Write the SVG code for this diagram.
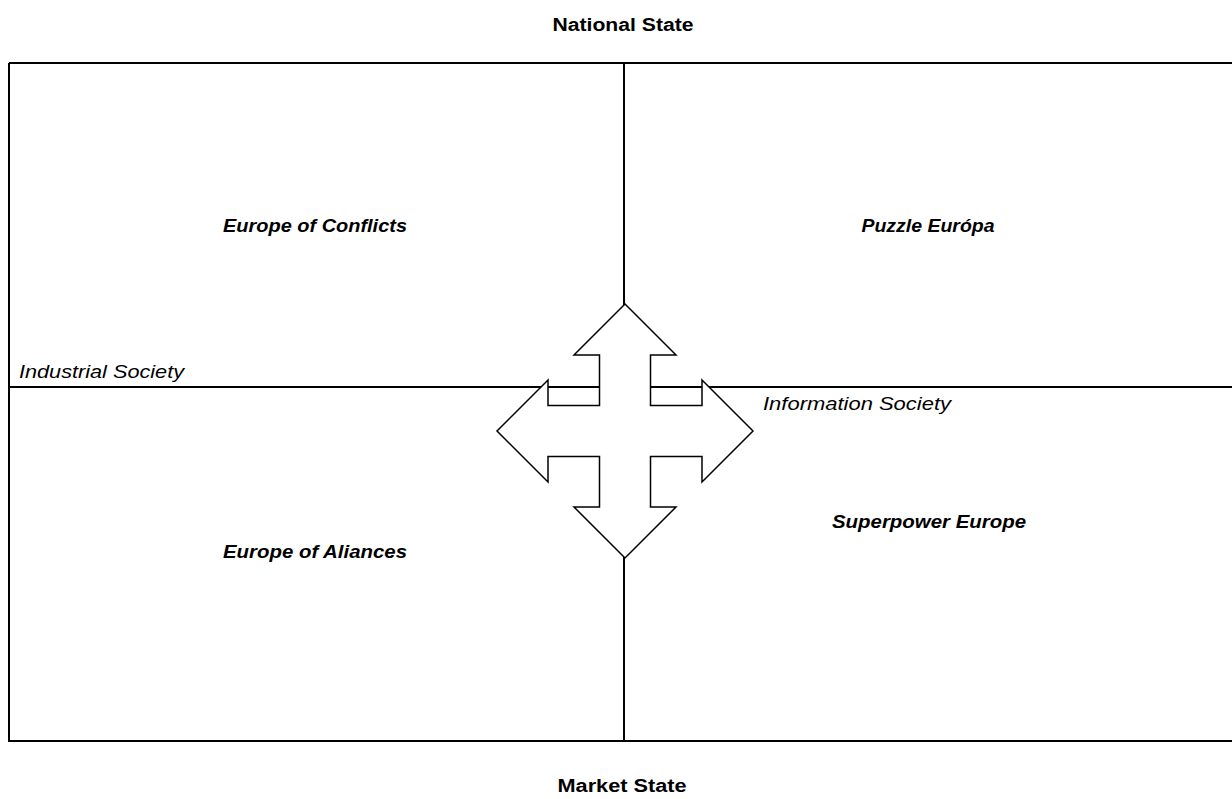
<svg xmlns="http://www.w3.org/2000/svg" width="1232" height="799" viewBox="0 0 1232 799">
<style>
.ln{stroke:#000;stroke-width:2;fill:none}
.t{font-family:"Liberation Sans",Arial,sans-serif;font-size:18px;fill:#000}
.b{font-weight:bold}
.i{font-style:italic}
.arrow{fill:#fff;stroke:#000;stroke-width:1.5;stroke-linejoin:miter}
</style>
<rect width="1232" height="799" fill="#fff"/>
<g id="connectors">
<path class="ln" d="M9,63 H1240 M9,63 V741 H1240 M9,387 H1240 M624,63 V741"/>
</g>
<g id="arrow">
<polygon class="arrow" points="625,304 676,355 650.5,355 650.5,405.5 702,405.5 702,380 753,431 702,482 702,456.5 650.5,456.5 650.5,507 676,507 625,558 574,507 599.5,507 599.5,456.5 548,456.5 548,482 497,431 548,380 548,405.5 599.5,405.5 599.5,355 574,355"/>
</g>
<g id="national-state"><text class="t b" x="623" y="31" text-anchor="middle" textLength="141" lengthAdjust="spacingAndGlyphs">National State</text></g>
<g id="market-state"><text class="t b" x="622" y="792" text-anchor="middle" textLength="129" lengthAdjust="spacingAndGlyphs">Market State</text></g>
<g id="europe-of-conflicts"><text class="t b i" x="315" y="232" text-anchor="middle" textLength="184" lengthAdjust="spacingAndGlyphs">Europe of Conflicts</text></g>
<g id="puzzle-europa"><text class="t b i" x="928" y="232" text-anchor="middle" textLength="133" lengthAdjust="spacingAndGlyphs">Puzzle Európa</text></g>
<g id="europe-of-aliances"><text class="t b i" x="315" y="558" text-anchor="middle" textLength="184" lengthAdjust="spacingAndGlyphs">Europe of Aliances</text></g>
<g id="superpower-europe"><text class="t b i" x="929" y="528" text-anchor="middle" textLength="194" lengthAdjust="spacingAndGlyphs">Superpower Europe</text></g>
<g id="industrial-society"><text class="t i" x="19" y="378" textLength="165" lengthAdjust="spacingAndGlyphs">Industrial Society</text></g>
<g id="information-society"><text class="t i" x="763" y="410" textLength="188" lengthAdjust="spacingAndGlyphs">Information Society</text></g>
</svg>
